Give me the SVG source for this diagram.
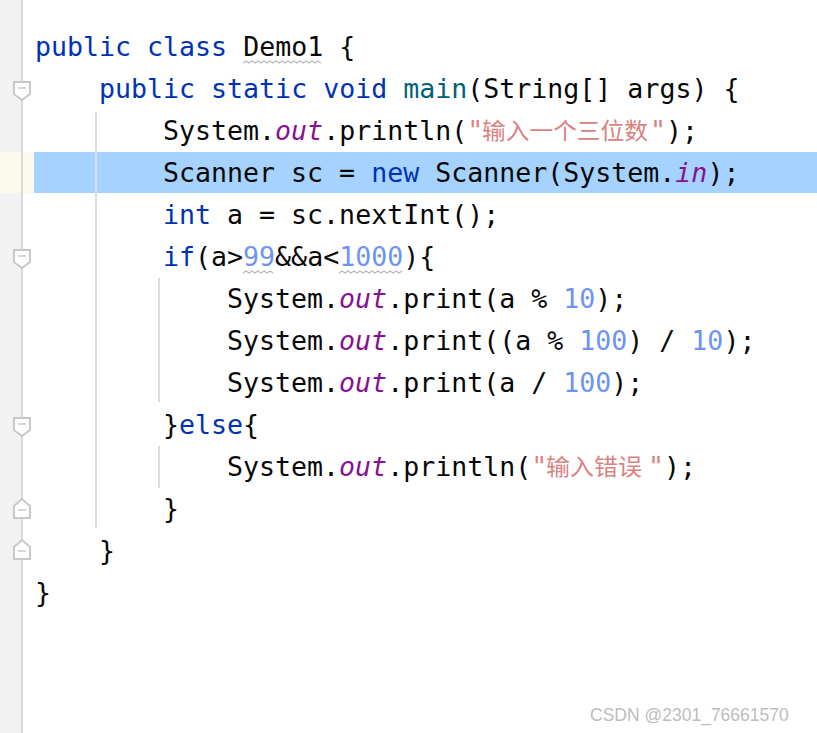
<svg xmlns="http://www.w3.org/2000/svg" width="817" height="733" viewBox="0 0 817 733">
<style>
.c{font-family:"DejaVu Sans Mono","Liberation Mono","Noto Sans CJK SC",monospace;font-size:26.6px;fill:#080808;white-space:pre}
.z{font-family:"Noto Sans CJK SC",sans-serif;font-size:23px}
.k{fill:#0033b3}.m{fill:#00627a}.f{fill:#871094;font-style:italic}.s{fill:#d9827f}.n{fill:#6d94f0}
.g{stroke:#dcdcdc;stroke-width:2}
.fold{fill:#fff;stroke:#c8c8c8;stroke-width:2}
</style>
<rect width="817" height="733" fill="#fff"/>
<rect width="22" height="733" fill="#f2f2f2"/>
<rect x="0" y="152" width="34" height="41" fill="#fcfaed"/>
<rect x="34" y="152" width="783" height="41" fill="#a6d2ff"/>
<line x1="22" y1="0" x2="22" y2="733" stroke="#d8d8d8" stroke-width="2"/>
<line class="g" x1="96" y1="112" x2="96" y2="528"/>
<line class="g" x1="159" y1="278" x2="159" y2="402"/>
<line class="g" x1="159" y1="446" x2="159" y2="488"/>
<g id="folds">
<path class="fold" d="M14,82 H30 V94 L22,100 L14,94 Z"/><line x1="18" y1="88" x2="26" y2="88" stroke="#c8c8c8" stroke-width="1.5"/>
<path class="fold" d="M14,250 H30 V262 L22,268 L14,262 Z"/><line x1="18" y1="256" x2="26" y2="256" stroke="#c8c8c8" stroke-width="1.5"/>
<path class="fold" d="M14,418 H30 V430 L22,436 L14,430 Z"/><line x1="18" y1="424" x2="26" y2="424" stroke="#c8c8c8" stroke-width="1.5"/>
<path class="fold" d="M14,518 H30 V506 L22,499 L14,506 Z"/><line x1="18" y1="510" x2="26" y2="510" stroke="#c8c8c8" stroke-width="1.5"/>
<path class="fold" d="M14,559 H30 V547 L22,540 L14,547 Z"/><line x1="18" y1="551" x2="26" y2="551" stroke="#c8c8c8" stroke-width="1.5"/>
</g>
<g id="code">
<text class="c" x="35" y="56"><tspan class="k">public class </tspan>Demo1 {</text>
<text class="c" x="99" y="98"><tspan class="k">public static void </tspan><tspan class="m">main</tspan>(String[] args) {</text>
<text class="c" x="163" y="140">System.<tspan class="f">out</tspan>.println(<tspan class="s">"</tspan></text>
<text class="c z s" x="482" y="139" textLength="166" lengthAdjust="spacingAndGlyphs">输入一个三位数</text>
<text class="c" x="650" y="140"><tspan class="s">"</tspan>);</text>
<text class="c" x="163" y="182">Scanner sc = <tspan class="k">new </tspan>Scanner(System.<tspan class="f">in</tspan>);</text>
<text class="c" x="163" y="224"><tspan class="k">int </tspan>a = sc.nextInt();</text>
<text class="c" x="163" y="266"><tspan class="k">if</tspan>(a&gt;<tspan class="n">99</tspan>&amp;&amp;a&lt;<tspan class="n">1000</tspan>){</text>
<text class="c" x="227" y="308">System.<tspan class="f">out</tspan>.print(a % <tspan class="n">10</tspan>);</text>
<text class="c" x="227" y="350">System.<tspan class="f">out</tspan>.print((a % <tspan class="n">100</tspan>) / <tspan class="n">10</tspan>);</text>
<text class="c" x="227" y="392">System.<tspan class="f">out</tspan>.print(a / <tspan class="n">100</tspan>);</text>
<text class="c" x="163" y="434">}<tspan class="k">else</tspan>{</text>
<text class="c" x="227" y="476">System.<tspan class="f">out</tspan>.println(<tspan class="s">"</tspan></text>
<text class="c z s" x="546" y="475" textLength="96" lengthAdjust="spacingAndGlyphs">输入错误</text>
<text class="c" x="648" y="476"><tspan class="s">"</tspan>);</text>
<text class="c" x="163" y="518">}</text>
<text class="c" x="99" y="560">}</text>
<text class="c" x="35" y="602">}</text>
</g>
<g fill="none" stroke="#b8b8b8" stroke-width="1.2">
<path d="M243,63 l3,-2 l3,2 l3,-2 l3,2 l3,-2 l3,2 l3,-2 l3,2 l3,-2 l3,2 l3,-2 l3,2 l3,-2 l3,2 l3,-2 l3,2 l3,-2 l3,2 l3,-2 l3,2 l3,-2 l3,2 l3,-2 l3,2 l3,-2 l3,2"/>
<path d="M243,273 l3,-2 l3,2 l3,-2 l3,2 l3,-2 l3,2 l3,-2 l3,2 l3,-2 l3,2"/>
<path d="M339,273 l3,-2 l3,2 l3,-2 l3,2 l3,-2 l3,2 l3,-2 l3,2 l3,-2 l3,2 l3,-2 l3,2 l3,-2 l3,2 l3,-2 l3,2 l3,-2 l3,2 l3,-2 l3,2 l3,-2"/>
</g>
<text x="590" y="721" style="font-family:'Liberation Sans','Noto Sans',sans-serif;font-size:17.5px;fill:#bdbdbd">CSDN @2301_76661570</text>
</svg>
